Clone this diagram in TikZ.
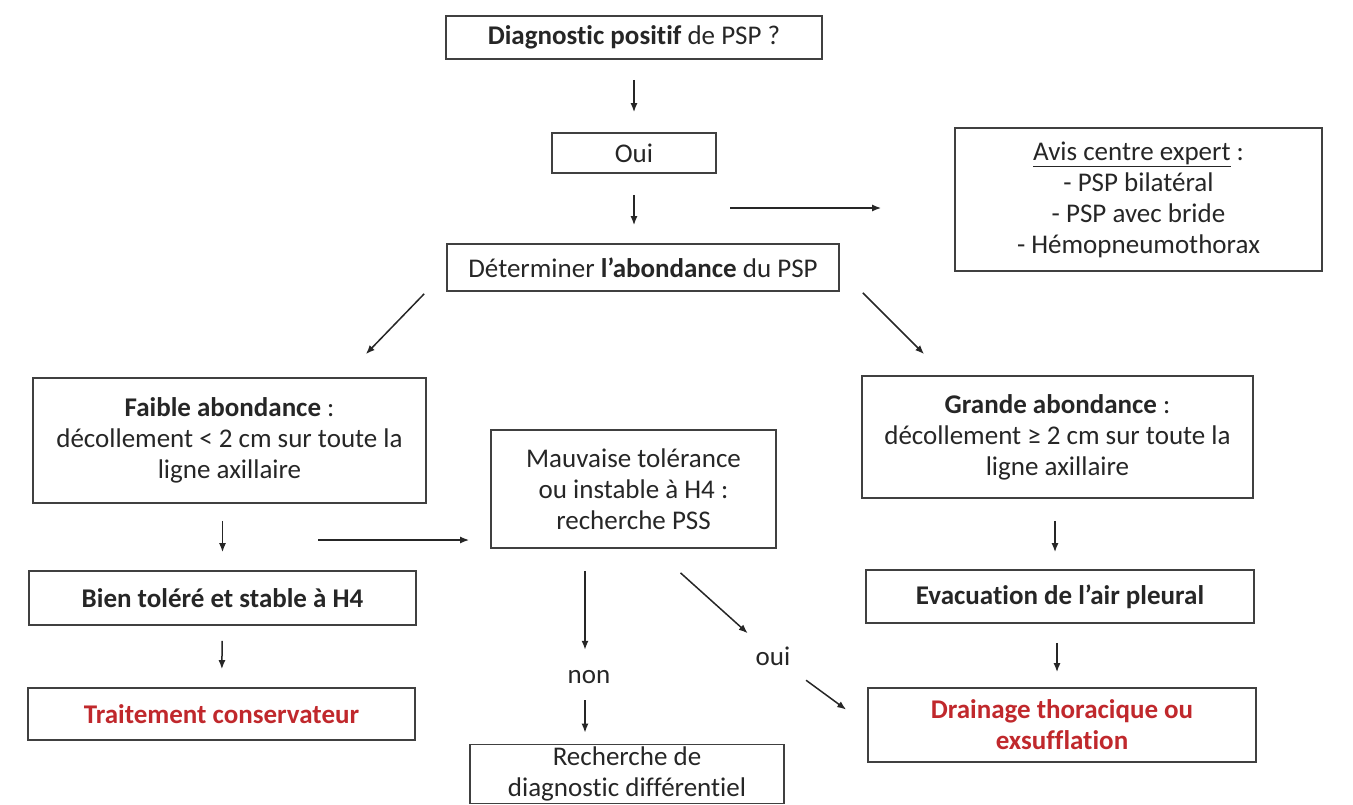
\documentclass[tikz,border=0pt]{standalone}
\usepackage{fontspec}
\setmainfont{Carlito}[Ligatures=NoCommon]
\usetikzlibrary{arrows.meta,positioning}
\definecolor{alertred}{RGB}{192,40,44}

\begin{document}
\begin{tikzpicture}[
    x=1pt, y=-1pt,
    font=\fontsize{27}{31}\selectfont,
    box/.style={draw=black!75, line width=1.7pt, align=center, inner sep=2pt, text=black!85},
    alert/.style={box, text=alertred, font=\fontsize{27}{31}\selectfont\bfseries},
    tag/.style={inner sep=0pt, minimum height=44pt, text=black!85},
    flow/.style={-{Latex[length=9pt,width=7pt]}, line width=1.5pt, draw=black!85}
]
\useasboundingbox (0,0) rectangle (1353,804);
\node[box, minimum width=376pt, minimum height=43pt] (diag) at (634,37.5) {\textbf{Diagnostic positif} de PSP ?};
\node[box, minimum width=164pt, minimum height=40pt] (oui) at (634,153) {Oui};
\node[box, minimum width=367pt, minimum height=143pt] (avis) at (1138.5,199.5) {\underline{Avis centre expert} :\\- PSP bilatéral\\- PSP avec bride\\- Hémopneumothorax};
\node[box, minimum width=392pt, minimum height=47pt] (det) at (643,267.5) {Déterminer \textbf{l’abondance} du PSP};
\node[box, minimum width=393pt, minimum height=125pt] (faible) at (229.5,440.5) {\textbf{Faible abondance} :\\décollement < 2 cm sur toute la\\ligne axillaire};
\node[box, minimum width=285pt, minimum height=118pt] (mauv) at (633.5,489) {Mauvaise tolérance\\ou instable à H4 :\\recherche PSS};
\node[box, minimum width=391pt, minimum height=122pt] (grande) at (1057.5,437) {\textbf{Grande abondance} :\\décollement ≥ 2 cm sur toute la\\ligne axillaire};
\node[box, font=\fontsize{27}{31}\selectfont\bfseries, minimum width=387pt, minimum height=54pt] (bien) at (222.5,598) {Bien toléré et stable à H4};
\node[box, font=\fontsize{27}{31}\selectfont\bfseries, minimum width=388pt, minimum height=53pt] (evac) at (1060,596.5) {Evacuation de l’air pleural};
\node[alert, minimum width=387pt, minimum height=52pt] (trait) at (221.5,714) {Traitement conservateur};
\node[alert, minimum width=388pt, minimum height=74pt] (drain) at (1062,725) {Drainage thoracique ou\\exsufflation};
\node[box, minimum width=314pt, minimum height=59pt] (rech) at (627,774) {Recherche de\\diagnostic différentiel};
\node[tag] (nontag) at (589,677) {non};
\node[tag] (ouitag) at (773,656) {oui};
\coordinate (fork1) at (730,208);
\coordinate (fork2) at (318,540);

% main column
\draw[flow, shorten <=20pt, shorten >=20pt] (diag) -- (oui);
\draw[flow, shorten <=21pt, shorten >=18pt] (oui) -- (oui |- det.north);
\draw[flow, shorten >=73pt] (fork1) -- (fork1 -| avis.west);
\draw[flow] ([shift={(-22,2)}]det.south west) -- ([shift={(-61,-23)}]faible.north east);
\draw[flow] ([shift={(23,1)}]det.south east) -- ([shift={(63,-21)}]grande.north west);
% left branch
\draw[flow, shorten <=17pt, shorten >=18pt] (bien |- faible.south) -- (bien.north);
\draw[flow, shorten >=21pt] (fork2) -- (fork2 -| mauv.west);
\draw[flow, shorten <=15pt, shorten >=18pt] (bien) -- (trait);
% middle
\draw[flow, shorten <=22pt, shorten >=5pt] ([xshift=-4pt]nontag |- mauv.south) -- ([xshift=-4pt]nontag.north);
\draw[flow, shorten <=1pt, shorten >=11pt] ([xshift=-4pt]nontag.south) -- ([xshift=-4pt]nontag |- rech.north);
\draw[flow, shorten >=34pt] ([shift={(47,24)}]mauv.south) -- (ouitag.center);
\draw[flow, shorten <=41pt, shorten >=26pt] (ouitag.center) -- (drain.west);
% right branch
\draw[flow, shorten <=22pt, shorten >=17pt] (grande.south -| 1055,0) -- (evac.north -| 1055,0);
\draw[flow, shorten <=19pt, shorten >=15pt] (evac.south -| 1057,0) -- (drain.north -| 1057,0);
\end{tikzpicture}
\end{document}
